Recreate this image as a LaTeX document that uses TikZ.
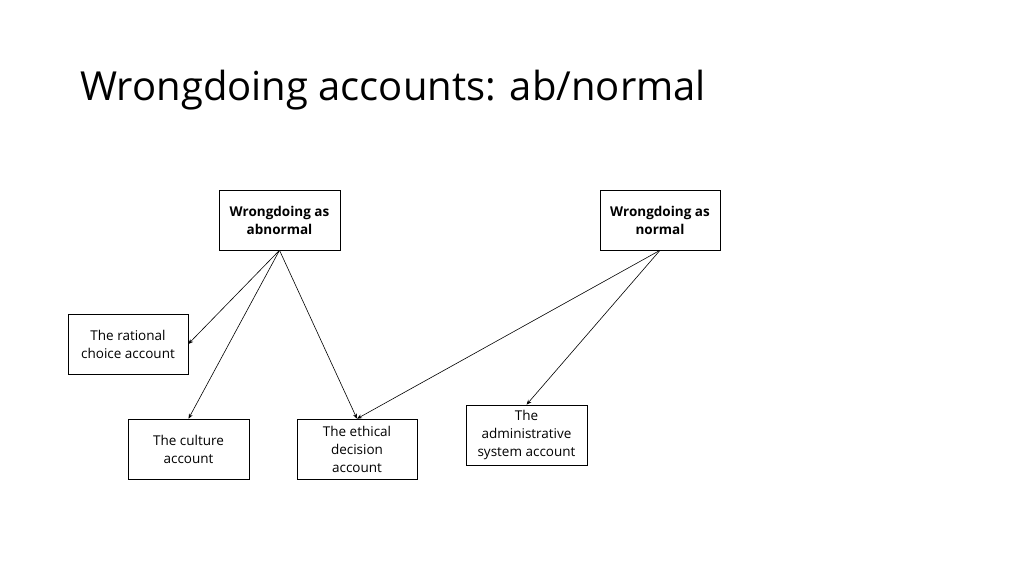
\documentclass[tikz,border=0pt]{standalone}
\usepackage{fontspec}
\setmainfont{Open Sans}
\usetikzlibrary{arrows.meta}
\begin{document}
\begin{tikzpicture}[x=1pt,y=-1pt,
  box/.style={draw,line width=0.6pt,minimum width=121pt,minimum height=60pt,align=center,font=\fontsize{13.5}{18}\selectfont,inner sep=2pt},
  arr/.style={-{Stealth[length=5pt,width=4pt]},line width=0.6pt}]
\useasboundingbox (0,0) rectangle (1024,576);
\node[anchor=base west,font=\fontsize{40}{44}\selectfont,inner sep=0pt] (title) at (80,100) {Wrongdoing accounts: ab/normal};
\node[box,font=\fontsize{13.5}{18}\selectfont\bfseries] (A) at (279.5,220) {Wrongdoing as\\abnormal};
\node[box,font=\fontsize{13.5}{18}\selectfont\bfseries,minimum width=120pt] (N) at (660,220) {Wrongdoing as\\normal};
\node[box,minimum width=120pt] (R) at (128,344) {The rational\\choice account};
\node[box] (C) at (188.5,449) {The culture\\account};
\node[box,minimum width=120pt] (E) at (357,449) {The ethical\\decision\\account};
\node[box] (S) at (526.5,435) {The\\administrative\\system account};
\draw[arr] (A.south) -- (R.east);
\draw[arr] (A.south) -- (C.north);
\draw[arr] (A.south) -- (E.north);
\draw[arr] (N.south) -- (E.north);
\draw[arr] (N.south) -- (S.north);
\end{tikzpicture}
\end{document}
